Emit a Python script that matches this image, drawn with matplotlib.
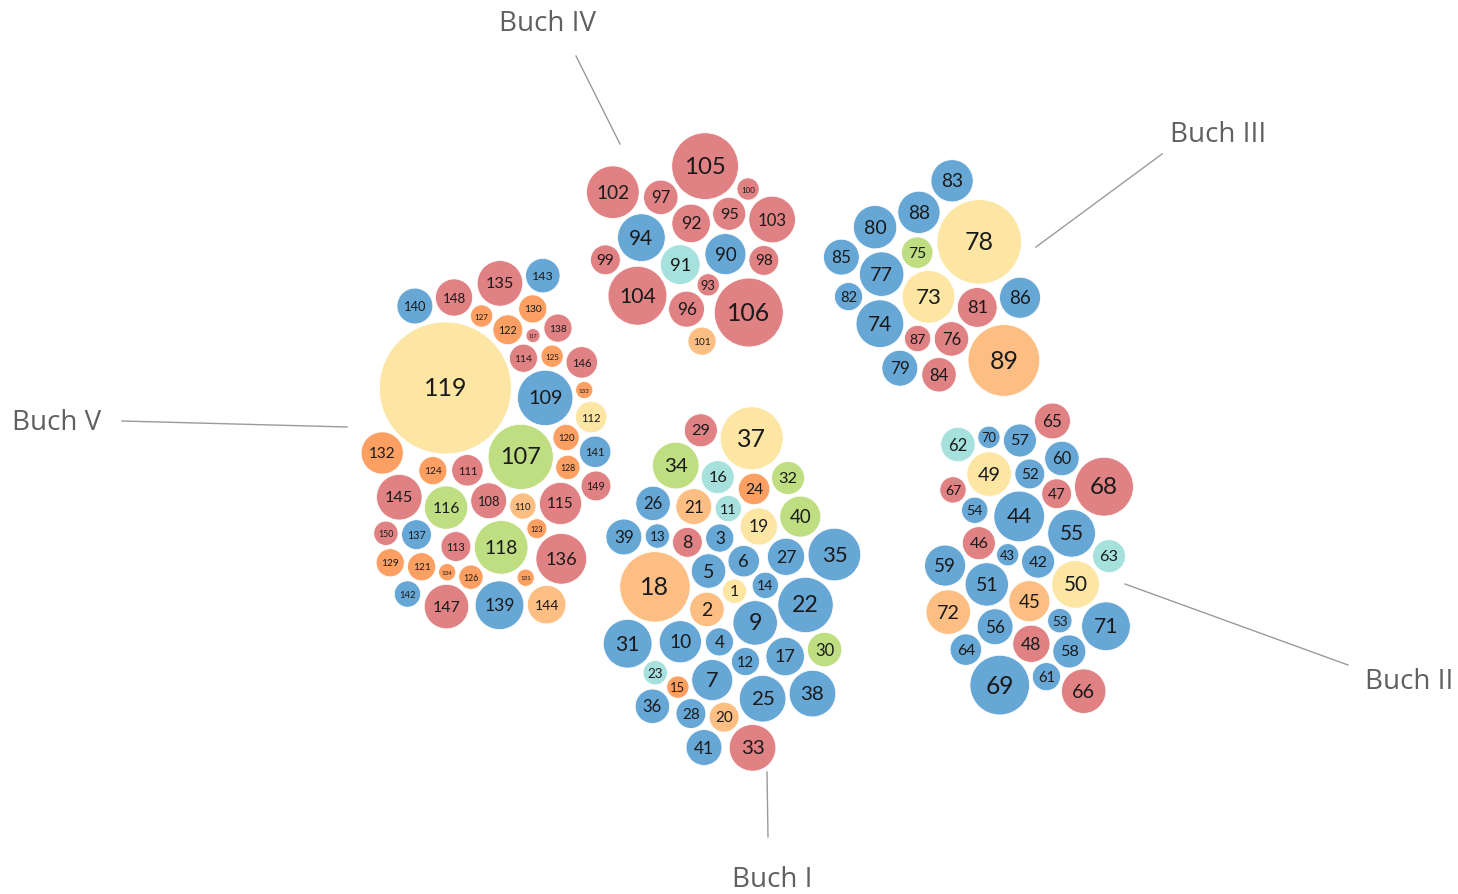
import numpy as np
import matplotlib
matplotlib.use("Agg")
import matplotlib.pyplot as plt
from matplotlib.patches import Circle

# verse count per psalm (bubble area)
verses = [6, 12, 8, 8, 12, 10, 17, 9, 20, 18, 7, 8, 6, 7, 5, 11, 15, 50, 14, 9,
          13, 31, 6, 10, 22, 12, 14, 9, 11, 12, 24, 11, 22, 22, 28, 12, 40, 22, 13, 17,
          13, 11, 5, 26, 17, 11, 9, 14, 20, 23, 19, 9, 6, 7, 23, 13, 11, 11, 17, 12,
          8, 12, 11, 10, 13, 20, 7, 35, 36, 5, 24, 20, 28, 23, 10, 12, 20, 72, 13, 19,
          16, 8, 18, 12, 13, 17, 7, 18, 52, 17, 16, 15, 5, 23, 11, 13, 12, 9, 9, 5,
          8, 28, 22, 35, 45, 48, 43, 13, 31, 7, 10, 10, 9, 8, 18, 19, 2, 29, 176, 7,
          8, 9, 4, 8, 5, 6, 5, 6, 8, 8, 3, 18, 3, 3, 21, 26, 9, 8, 24, 13,
          10, 7, 12, 15, 21, 10, 20, 14, 9, 6]

# category per psalm: B blue, R red, Y yellow, O light orange, D dark orange, G green, C cyan
genre = ("YOBBBBBRBBCBBBDCBOYOOBCDBBBBRGBGRGBBYBBGB"      # 1-41
         "BBBORRRYYBBBBBBBBBBBCCBRRRRBBBO"                # 42-72
         "YBGRBYBBRBBRBBRBO"                              # 73-89
         "BCRRBRRRRRRORRRRR"                              # 90-106
         "GRBORYRRRGRGY" + "D" * 15 + "RRBRBBBBBORRRRRR")  # 107-150

book_names = ["Buch I", "Buch II", "Buch III", "Buch IV", "Buch V"]
book_first = [1, 42, 73, 90, 107]
book_last = [41, 72, 89, 106, 150]

palette = {"B": "#5ea2d4", "R": "#df7a7d", "Y": "#fde59f", "O": "#fdbb7c",
           "D": "#fb9a5a", "G": "#bcdd7b", "C": "#a2e0dd"}

# layout: cluster centre, height/width ratio, label position, leader line
centres = [(732, 590), (1029, 560), (932, 279), (691, 245), (486, 445)]
ratios = [1.55, 1.65, 1.0, 1.1, 2.0]
label_xy = [(772, 880), (1409, 682), (1218, 135), (548, 24), (57, 423)]
leaders = [((767, 773), (768, 838)), ((1125, 585), (1348, 666)),
           ((1036, 248), (1162, 155)), ((620, 145), (576, 57)),
           ((347, 428), (122, 422))]

R_MAX = 66.0
PAD = 3.5


def pack(r, ratio, iters=700):
    n = len(r)
    ax, ay = 1.0, 1.0 / ratio ** 2
    i = np.arange(n)
    ang = i * 2.39996
    rad = 10 * np.sqrt(i + 0.5)
    p = np.column_stack([rad * np.cos(ang), rad * np.sin(ang) * ratio])
    eye = np.eye(n)
    w = r[None, :] ** 2 / (r[:, None] ** 2 + r[None, :] ** 2)
    for t in range(iters):
        if t < iters - 60:
            p[:, 0] -= p[:, 0] * 0.02 * ax
            p[:, 1] -= p[:, 1] * 0.02 * ay
        for _ in range(3):
            d = p[:, None, :] - p[None, :, :]
            dist = np.sqrt((d ** 2).sum(-1)) + eye
            ov = r[:, None] + r[None, :] + PAD - dist
            np.fill_diagonal(ov, 0)
            ov = np.clip(ov, 0, None)
            push = d / dist[..., None] * (ov * w)[..., None]
            p += push.sum(1) * 0.6
    return p


def font_px(label, r):
    if len(label) == 3:
        return min(0.72 * r, 25)
    if len(label) == 2:
        return min(6 + 0.62 * r, 25)
    return min(7 + 0.72 * r, 25)


fig = plt.figure(figsize=(14.58, 8.95), dpi=100)
ax = fig.add_axes([0, 0, 1, 1])
ax.set_xlim(0, 1458)
ax.set_ylim(895, 0)
ax.set_aspect("equal")
ax.axis("off")

v = np.array(verses, dtype=float)
radii = R_MAX * np.sqrt(v / v.max())

for b in range(5):
    idx = np.arange(book_first[b] - 1, book_last[b])
    r = radii[idx]
    pos = pack(r, ratios[b])
    # recentre on the bounding box
    lo = (pos - r[:, None]).min(0)
    hi = (pos + r[:, None]).max(0)
    pos = pos - (lo + hi) / 2 + np.array(centres[b])
    for k, j in enumerate(idx):
        c = Circle(pos[k], r[k], facecolor=palette[genre[j]], edgecolor="white",
                   lw=0.6, alpha=0.95)
        ax.add_patch(c)
        label = str(j + 1)
        ax.text(pos[k][0], pos[k][1], label, ha="center", va="center",
                fontsize=font_px(label, r[k]) * 0.72, color="#1a1a1a", family="Lato")

    (x0, y0), (x1, y1) = leaders[b]
    ax.plot([x0, x1], [y0, y1], color="#9a9a9a", lw=1)
    ax.text(label_xy[b][0], label_xy[b][1], book_names[b], ha="center", va="center",
            fontsize=20, color="#606060", family="Open Sans")

fig.savefig("out.png", dpi=100)
